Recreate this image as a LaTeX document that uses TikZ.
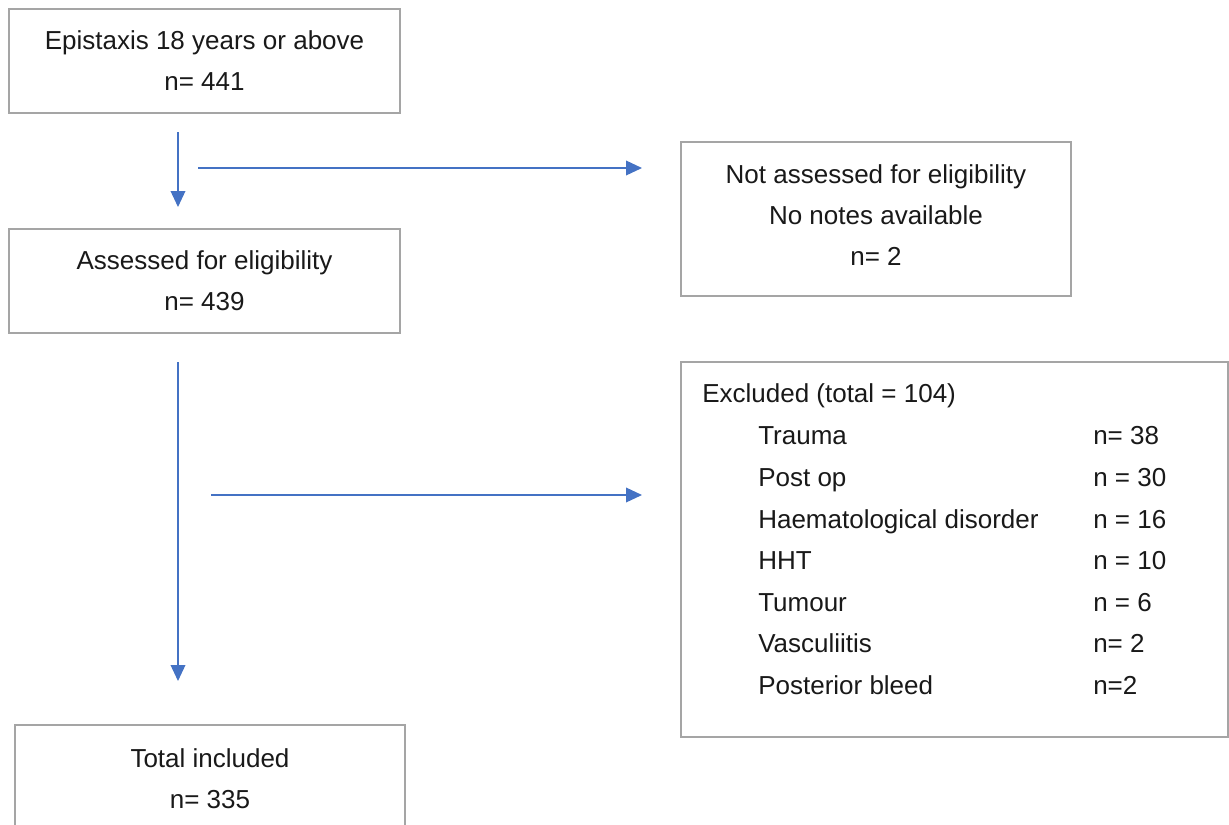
\documentclass[tikz,border=0pt]{standalone}
\usepackage{fontspec}
\setmainfont{Liberation Sans}
\usetikzlibrary{arrows.meta}
\definecolor{boxgray}{HTML}{A5A5A5}
\definecolor{arrowblue}{HTML}{4472C4}
\begin{document}
\begin{tikzpicture}[x=0.75pt,y=-0.75pt,
  txt/.style={font=\fontsize{19.5}{30.75}\selectfont, text=black!90},
  box/.style={draw=boxgray, line width=1.8pt, rectangle, align=center, inner sep=0pt, txt},
  item/.style={txt, anchor=west, inner sep=0pt, text height=14pt, text depth=4pt, yshift=-2.25pt},
  arr/.style={draw=arrowblue, line width=1.1pt, -{Triangle[length=12pt,width=11pt]}, arrowblue}]
\useasboundingbox (0,0) rectangle (1229,825);
\clip (0,0) rectangle (1229,825);
\fill[white] (0,0) rectangle (1229,825);

\node[box, minimum width=391*0.75pt, minimum height=104*0.75pt] (epi) at (204.5,61) {Epistaxis 18 years or above\\n= 441};
\node[box, minimum width=390*0.75pt, minimum height=154*0.75pt] (notass) at (876,219) {};
\node[txt, align=center, inner sep=0pt] (notassT) at (876,215.5) {Not assessed for eligibility\\No notes available\\n= 2};
\node[box, minimum width=391*0.75pt, minimum height=104*0.75pt] (ass) at (204.5,281) {Assessed for eligibility\\n= 439};
\node[box, minimum width=390*0.75pt, minimum height=107*0.75pt] (tot) at (210,778.5) {Total included\\n= 335};
\node[box, minimum width=547*0.75pt, minimum height=375*0.75pt] (excl) at (954.5,549.5) {};

\node[item] (exT) at (702,393) {Excluded (total = 104)};
\node[item] (i1) at (758,435) {Trauma};
\node[item] (i2) at (758,477) {Post op};
\node[item] (i3) at (758,519) {Haematological disorder};
\node[item] (i4) at (758,560) {HHT};
\node[item] (i5) at (758,602) {Tumour};
\node[item] (i6) at (758,643) {Vasculiitis};
\node[item] (i7) at (758,685) {Posterior bleed};
\node[item] (v1) at (1093,435) {n= 38};
\node[item] (v2) at (1093,477) {n = 30};
\node[item] (v3) at (1093,519) {n = 16};
\node[item] (v4) at (1093,560) {n = 10};
\node[item] (v5) at (1093,602) {n = 6};
\node[item] (v6) at (1093,643) {n= 2};
\node[item] (v7) at (1093,685) {n=2};

\coordinate (a1s) at (178,132);
\coordinate (a1e) at (178,207);
\coordinate (a2s) at (198,168);
\coordinate (a2e) at (642,168);
\coordinate (a3s) at (178,362);
\coordinate (a3e) at (178,681);
\coordinate (a4s) at (211,495);
\coordinate (a4e) at (642,495);
\draw[arr] (a1s) -- (a1e);
\draw[arr] (a2s) -- (a2e);
\draw[arr] (a3s) -- (a3e);
\draw[arr] (a4s) -- (a4e);
\end{tikzpicture}
\end{document}
